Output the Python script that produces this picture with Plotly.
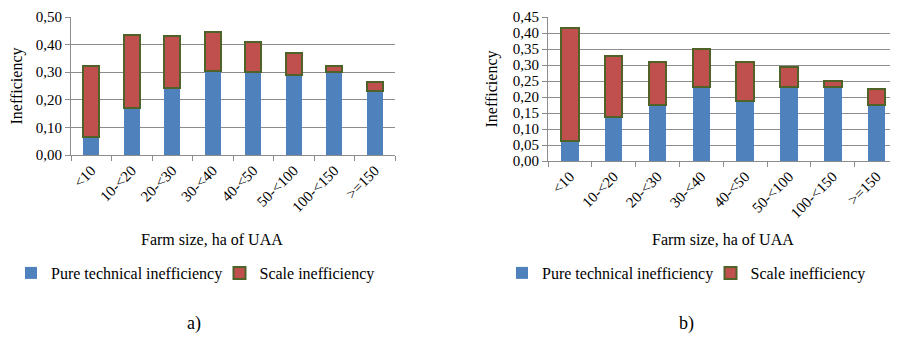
import plotly.graph_objects as go

categories = ["<10", "10-<20", "20-<30", "30-<40", "40-<50", "50-<100", "100-<150", ">=150"]

# Chart a)
pure_a = [0.065, 0.171, 0.241, 0.306, 0.300, 0.291, 0.300, 0.232]
total_a = [0.321, 0.435, 0.431, 0.445, 0.409, 0.369, 0.321, 0.265]
scale_a = [round(t - p, 3) for t, p in zip(total_a, pure_a)]

# Chart b)
pure_b = [0.064, 0.138, 0.175, 0.232, 0.188, 0.230, 0.230, 0.176]
total_b = [0.415, 0.328, 0.308, 0.351, 0.308, 0.293, 0.249, 0.225]
scale_b = [round(t - p, 3) for t, p in zip(total_b, pure_b)]

BLUE = "#4F81BD"
RED = "#C0504D"
EDGE = "#4F6228"
GRID = "#8C8C8C"
FONT = "Liberation Serif"

W, H = 898, 337
OFF = 8  # page body offset of the plot div

def px_x(v):
    return (v - OFF) / W

def px_y(v):
    return 1 - (v - OFF) / H

fig = go.Figure()

for xa, ya, pure, scale, lg_blue, lg_red in [("x", "y", pure_a, scale_a, "legend", "legend2"),
                                              ("x2", "y2", pure_b, scale_b, "legend3", "legend4")]:
    fig.add_trace(go.Bar(x=categories, y=pure, name="Pure technical inefficiency",
                         marker=dict(color=BLUE, line=dict(width=0)),
                         xaxis=xa, yaxis=ya, legend=lg_blue))
    fig.add_trace(go.Bar(x=categories, y=scale, name="Scale inefficiency",
                         marker=dict(color=RED, line=dict(color=EDGE, width=2)),
                         xaxis=xa, yaxis=ya, legend=lg_red))

xcommon = dict(type="category", showline=True, linecolor=GRID, linewidth=1,
               ticks="outside", tickson="boundaries", ticklen=5, tickcolor=GRID,
               tickangle=-45, showgrid=False, automargin=False,
               tickfont=dict(family=FONT, size=15, color="#000"))
ycommon = dict(showline=True, linecolor=GRID, linewidth=1, ticks="outside", ticklen=5,
               tickcolor=GRID, showgrid=True, gridcolor=GRID, gridwidth=1, zeroline=False,
               automargin=False, ticklabeloverflow="allow",
               tickformat=".2f", tickfont=dict(family=FONT, size=15, color="#000"),
               title=dict(text="Inefficiency", font=dict(family=FONT, size=16, color="#000"),
                          standoff=11))

def leg(sym_center):
    return dict(orientation="h", x=px_x(sym_center - 21), y=px_y(273), xanchor="left",
                yanchor="middle", font=dict(family=FONT, size=16, color="#000"),
                bgcolor="rgba(0,0,0,0)")

def label(text, x, y, size):
    return dict(text=text, x=px_x(x), y=px_y(y), xref="paper", yref="paper",
                xanchor="center", yanchor="middle",
                showarrow=False, font=dict(family=FONT, size=size, color="#000"))

fig.update_layout(
    width=W, height=H,
    margin=dict(l=0, r=0, t=0, b=0, autoexpand=False),
    showlegend=True,
    paper_bgcolor="white", plot_bgcolor="white",
    separators=", ",
    barmode="stack", bargap=0.6,
    font=dict(family=FONT, size=15, color="#000"),
    xaxis=dict(xcommon, domain=[px_x(71), px_x(395)], anchor="y"),
    yaxis=dict(ycommon, domain=[px_y(155), px_y(17)], range=[0, 0.5], dtick=0.1, anchor="x"),
    xaxis2=dict(xcommon, domain=[px_x(548), px_x(898.5)], anchor="y2"),
    yaxis2=dict(ycommon, domain=[px_y(161), px_y(17)], range=[0, 0.45], dtick=0.05, anchor="x2"),
    legend=leg(32),
    legend2=leg(240.5),
    legend3=leg(523),
    legend4=leg(731.5),
    annotations=[
        label("Farm size, ha of UAA", 212, 239, 16),
        label("Farm size, ha of UAA", 723, 239, 16),
        label("a)", 194, 323, 18),
        label("b)", 686, 323, 18),
    ],
)

fig.write_html("out.html")
